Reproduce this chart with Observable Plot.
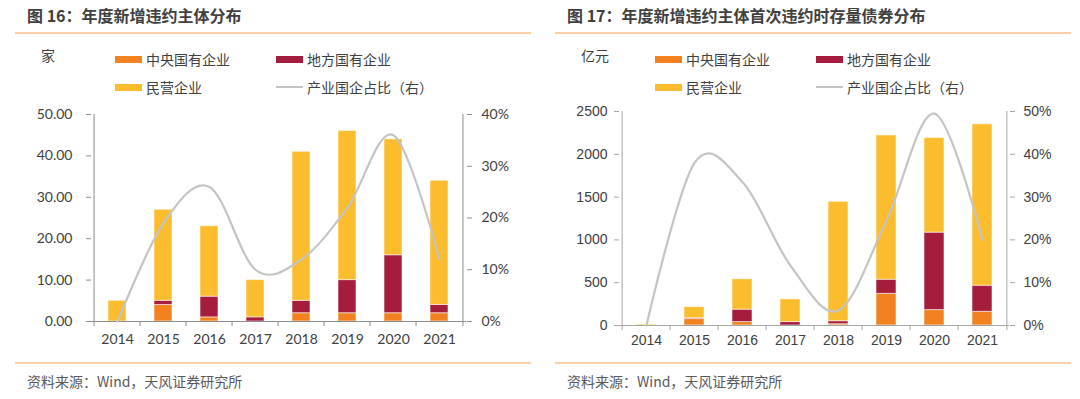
<!DOCTYPE html>
<html>
<head>
<meta charset="utf-8">
<script src="https://cdn.jsdelivr.net/npm/d3@7"></script>
<script src="https://cdn.jsdelivr.net/npm/@observablehq/plot@0.6"></script>
<style>
  body { margin: 0; background: #fff; }
  #root { position: relative; width: 1080px; height: 399px; overflow: hidden; font-family: "Noto Sans CJK SC", "Noto Sans", sans-serif; }
  .abs { position: absolute; white-space: nowrap; }
  .title { font-size: 16px; font-weight: bold; color: #404040; line-height: 20px; }
  .hr { height: 2px; background: #F8CFA6; }
  .unit { font-size: 14px; color: #404040; line-height: 18px; }
  .leg { font-size: 14px; color: #404040; line-height: 18px; display: flex; align-items: center; }
  .sw { width: 27px; height: 7px; margin-right: 4px; }
  .swl { width: 27px; height: 2px; margin-right: 4px; background: #C3C3C3; }
  .src { font-size: 14px; color: #595959; line-height: 18px; }
  .plot { position: absolute; top: 95px; }
</style>
</head>
<body>
<div id="root"></div>
<script>
// ---------- data ----------
const years = ["2014", "2015", "2016", "2017", "2018", "2019", "2020", "2021"];
const types = ["中央国有企业", "地方国有企业", "民营企业"];
const lineLabel = "产业国企占比（右）";
const typeColors = ["#F28220", "#A61C3C", "#FBBC2D"];

// 图16：年度新增违约主体分布（家）
const central16 = [0, 4, 1, 0, 2, 2, 2, 2];
const local16   = [0, 1, 5, 1, 3, 8, 14, 2];
const private16 = [5, 22, 17, 9, 36, 36, 28, 30];
const share16   = [0, 0.19, 0.26, 0.10, 0.12, 0.22, 0.36, 0.12];
const yTicks16  = [0, 10, 20, 30, 40, 50];
const pTicks16  = [0, 0.1, 0.2, 0.3, 0.4];

// 图17：首次违约时存量债券分布（亿元）
const central17 = [0, 75, 40, 0, 15, 370, 180, 160];
const local17   = [0, 10, 145, 40, 35, 165, 905, 305];
const private17 = [10, 130, 355, 265, 1395, 1685, 1105, 1885];
const share17   = [0, 0.38, 0.335, 0.14, 0.035, 0.245, 0.495, 0.20];
const yTicks17  = [0, 500, 1000, 1500, 2000, 2500];
const pTicks17  = [0, 0.1, 0.2, 0.3, 0.4, 0.5];

// ---------- helpers ----------
const root = document.getElementById("root");
function add(html, cls, left, top) {
  const d = document.createElement("div");
  d.className = "abs " + cls;
  d.style.left = left + "px";
  d.style.top = top + "px";
  d.innerHTML = html;
  root.appendChild(d);
  return d;
}
function legendItem(label, color, left, cy, isLine) {
  const sw = isLine ? `<span class="swl"></span>` : `<span class="sw" style="background:${color}"></span>`;
  add(sw + `<span>${label}</span>`, "leg", left, cy - 9);
}

function panel(cfg) {
  const {x0, title, unit, central, local, priv, share, yTicks, pTicks, yFmt, yMax, pMax,
         mL, mR, mT, mB, font, fontSize, axisColor, padIn, yPad, pPad, xPad} = cfg;
  const W = 540, H = 265;
  // header
  add(title, "title", x0 + 27, 5);
  const hr1 = add("", "hr", x0 + 15, 32); hr1.style.width = "516px";
  add(unit, "unit", x0 + 41, 46);
  legendItem(types[0], typeColors[0], x0 + 115, 59);
  legendItem(types[1], typeColors[1], x0 + 276, 59);
  legendItem(types[2], typeColors[2], x0 + 115, 87);
  legendItem(lineLabel, null, x0 + 276, 87, true);
  const hr2 = add("", "hr", x0 + 15, 362); hr2.style.width = "516px";
  add("资料来源：Wind，天风证券研究所", "src", x0 + 27, 372);

  const rows = [];
  years.forEach((yr, i) => {
    rows.push({year: yr, type: types[0], value: central[i]});
    rows.push({year: yr, type: types[1], value: local[i]});
    rows.push({year: yr, type: types[2], value: priv[i]});
  });
  const shareRows = years.map((yr, i) => ({year: yr, share: share[i]}));
  const step = (W - mL - mR) / years.length;
  const xScale = {type: "band", domain: years, paddingInner: padIn, paddingOuter: padIn / 2};
  const style = {fontFamily: font, fontSize: fontSize + "px", color: "#404040", background: "transparent", overflow: "visible"};

  const bars = Plot.plot({
    width: W, height: H, marginLeft: mL, marginRight: mR, marginTop: mT, marginBottom: mB,
    style,
    x: {...xScale, axis: null, label: null},
    y: {domain: [0, yMax], axis: null, label: null},
    color: {domain: types, range: typeColors},
    marks: [
      Plot.barY(rows, {x: "year", y: "value", fill: "type", stroke: "#fff", strokeOpacity: 0.55, strokeWidth: 1}),
      Plot.ruleY([0], {stroke: axisColor, strokeWidth: 1}),
      Plot.ruleX([years[0]], {x: d => d, y1: yMax, y2: 0, insetBottom: -5, dx: -step / 2, stroke: axisColor}),
      Plot.ruleX(years.slice(1), {x: d => d, y1: 0, y2: 0, insetBottom: -5, dx: -step / 2, stroke: axisColor}),
      Plot.axisY({anchor: "left", ticks: yTicks, tickFormat: yFmt, tickSize: 5, tickPadding: yPad, stroke: axisColor, label: null}),
      Plot.axisX({anchor: "bottom", tickSize: 0, tickPadding: xPad, label: null})
    ]
  });
  bars.classList.add("plot");
  bars.style.left = x0 + "px";
  root.appendChild(bars);

  const line = Plot.plot({
    width: W, height: H, marginLeft: mL, marginRight: mR, marginTop: mT, marginBottom: mB,
    style,
    x: {...xScale, axis: null, label: null},
    y: {domain: [0, pMax], axis: null, label: null},
    marks: [
      Plot.ruleX([years[years.length - 1]], {x: d => d, y1: pMax, y2: 0, insetBottom: -5, dx: step / 2, stroke: axisColor}),
      Plot.axisY({anchor: "right", ticks: pTicks, tickFormat: d3.format(".0%"), tickSize: 5, tickPadding: pPad, stroke: axisColor, label: null}),
      Plot.line(shareRows, {x: "year", y: "share", curve: "cardinal", tension: 0, stroke: "#C4C4C4", strokeWidth: 2.2})
    ]
  });
  line.classList.add("plot");
  line.style.left = x0 + "px";
  root.appendChild(line);
}

panel({
  x0: 0, title: "图 16：年度新增违约主体分布", unit: "家",
  central: central16, local: local16, priv: private16, share: share16,
  yTicks: yTicks16, pTicks: pTicks16, yFmt: d3.format(".2f"), yMax: 50, pMax: 0.4,
  mL: 91, mR: 74, mT: 19, mB: 39, font: "Lato, 'Open Sans', sans-serif", fontSize: 14,
  axisColor: "#8C8C8C", padIn: 0.6, yPad: 14, pPad: 10, xPad: 13
});
panel({
  x0: 540, title: "图 17：年度新增违约主体首次违约时存量债券分布", unit: "亿元",
  central: central17, local: local17, priv: private17, share: share17,
  yTicks: yTicks17, pTicks: pTicks17, yFmt: d3.format("d"), yMax: 2500, pMax: 0.5,
  mL: 79, mR: 71, mT: 16, mB: 35, font: "'Liberation Sans', Arial, sans-serif", fontSize: 14,
  axisColor: "#A6A6A6", padIn: 0.59, yPad: 7, pPad: 9, xPad: 10
});
</script>
</body>
</html>
